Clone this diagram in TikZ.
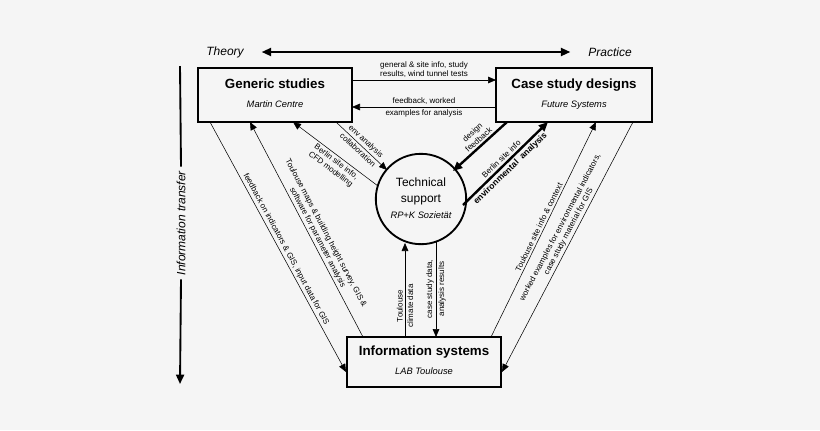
\documentclass[tikz,border=0pt]{standalone}
\usepackage{fontspec}
\setmainfont{Liberation Sans}
\usetikzlibrary{arrows.meta}
\definecolor{bgcol}{RGB}{245,245,245}
\tikzset{
  box/.style={draw, line width=1.4pt, minimum width=116pt, minimum height=40pt, inner sep=0pt},
  lbl/.style={font=\fontsize{6}{7}\selectfont, inner sep=1.5pt, align=center},
  flow/.style={-{Triangle[length=6pt,width=5pt]}, line width=0.4pt},
  bigflow/.style={-{Triangle[length=7pt,width=6pt]}, line width=1.8pt},
}
\begin{document}
\begin{tikzpicture}[x=0.75pt,y=0.75pt,yscale=-1,xscale=1]
            % background
            \fill[bgcol] (0,0) rectangle (820,430);
            \useasboundingbox (0,0) rectangle (820,430);
            % Boxes
            \node[box] (gen) at (275,95) {\begin{tabular}{c}\fontsize{10}{12}\selectfont\bfseries Generic studies\\[2pt]\fontsize{7}{8}\selectfont\itshape Martin Centre\end{tabular}};
            \node[box, minimum width=117pt] (cs) at (574,95) {\begin{tabular}{c}\fontsize{10}{12}\selectfont\bfseries Case study designs\\[2pt]\fontsize{7}{8}\selectfont\itshape Future Systems\end{tabular}};
            \node[box, minimum height=38pt] (info) at (424,362) {\begin{tabular}{c}\fontsize{10}{12}\selectfont\bfseries Information systems\\[2pt]\fontsize{7}{8}\selectfont\itshape LAB Toulouse\end{tabular}};
            % Circle
            \node[draw, circle, line width=1.4pt, minimum size=66pt, inner sep=0pt] (tech) at (421,199) {\begin{tabular}{c}\fontsize{9}{10}\selectfont Technical\\\fontsize{9}{10}\selectfont support\\\fontsize{7}{8}\selectfont\itshape RP+K Sozietät\end{tabular}};
            % Axes
            \node[font=\fontsize{9}{10}\selectfont\itshape] (theory) at (225,52) {Theory};
            \node[font=\fontsize{9}{10}\selectfont\itshape] (practice) at (610,52) {Practice};
            \draw[{Triangle[length=7pt,width=6pt]}-{Triangle[length=7pt,width=6pt]}, line width=1.4pt] ([xshift=10pt]theory.east) -- ([xshift=-10pt]practice.west);
            \coordinate (itop) at (180,66);
            \coordinate (ibot) at (180,384);
            \node[font=\fontsize{9}{10}\selectfont\itshape, rotate=90, fill=bgcol, inner sep=3pt] (itr) at (181,223) {Information transfer};
            \draw[line width=1.4pt] (itop) -- (itr.east);
            \draw[-{Triangle[length=7pt,width=6pt]}, line width=1.4pt] (itr.west) -- (ibot);
            % Top arrows
            \coordinate (a1) at (352,80); \coordinate (a2) at (496,80);
            \draw[flow] (a1) -- (a2) node[lbl, midway, above=0pt] {general \& site info, study\\results, wind tunnel tests};
            \coordinate (b1) at (496,107); \coordinate (b2) at (352,107);
            \draw[flow] (b1) -- (b2) node[lbl, midway, above] {feedback, worked} node[lbl, midway, below] {examples for analysis};
            % Left diagonals
            \coordinate (c1) at (210,122); \coordinate (c2) at (346,372);
            \draw[flow] (c1) -- (c2) node[lbl, pos=0.52, rotate=-61.5, anchor=south] {feedback on indicators \& GIS, input data for GIS};
            \coordinate (d1) at (363,337); \coordinate (d2) at (250,122);
            \draw[flow] (d1) -- (d2) node[lbl, pos=0.45, rotate=-62.3, anchor=south] {Toulouse maps \& building height survey, GIS \&\\software for parameter analysis};
            \coordinate (e1) at (378,186); \coordinate (e2) at (293,122);
            \draw[flow] (e1) -- (e2) node[lbl, pos=0.45, rotate=-37, anchor=north] {Berlin site info,\\CFD modelling};
            \coordinate (f1) at (336,122); \coordinate (f2) at (387,170);
            \draw[flow] (f1) -- (f2) node[lbl, pos=0.5, rotate=-43, anchor=south] {env analysis} node[lbl, pos=0.5, rotate=-43, anchor=north] {collaboration};
            % Right diagonals
            \coordinate (g1) at (507,122); \coordinate (g2) at (453,171);
            \draw[bigflow] (g1) -- (g2) node[lbl, pos=0.45, rotate=42, anchor=south] {design\\feedback};
            \coordinate (h1) at (463,205); \coordinate (h2) at (548,122);
            \draw[bigflow] (h1) -- (h2) node[lbl, pos=0.5, rotate=44, anchor=south] {Berlin site info} node[lbl, pos=0.5, rotate=44, anchor=north, font=\fontsize{6.5}{7}\selectfont\bfseries] {environmental\ \ analysis};
            \coordinate (k1) at (491,337); \coordinate (k2) at (596,122);
            \draw[flow] (k1) -- (k2) node[lbl, pos=0.5, rotate=64, anchor=south] {Toulouse site info \& context};
            \coordinate (m1) at (633,122); \coordinate (m2) at (502,372);
            \draw[flow] (m1) -- (m2) node[lbl, pos=0.45, rotate=62.3, anchor=south] {worked examples for environmental indicators,\\case study material for GIS};
            % Vertical arrows
            \coordinate (n1) at (405,337); \coordinate (n2) at (405,243);
            \draw[flow] (n1) -- (n2) node[lbl, pos=0.33, rotate=90, anchor=south] {Toulouse} node[lbl, pos=0.33, rotate=90, anchor=north] {climate data};
            \coordinate (p1) at (436,241); \coordinate (p2) at (436,337);
            \draw[flow] (p1) -- (p2) node[lbl, pos=0.5, rotate=90, anchor=south] {case study data,} node[lbl, pos=0.5, rotate=90, anchor=north] {analysis results};
\end{tikzpicture}
\end{document}
